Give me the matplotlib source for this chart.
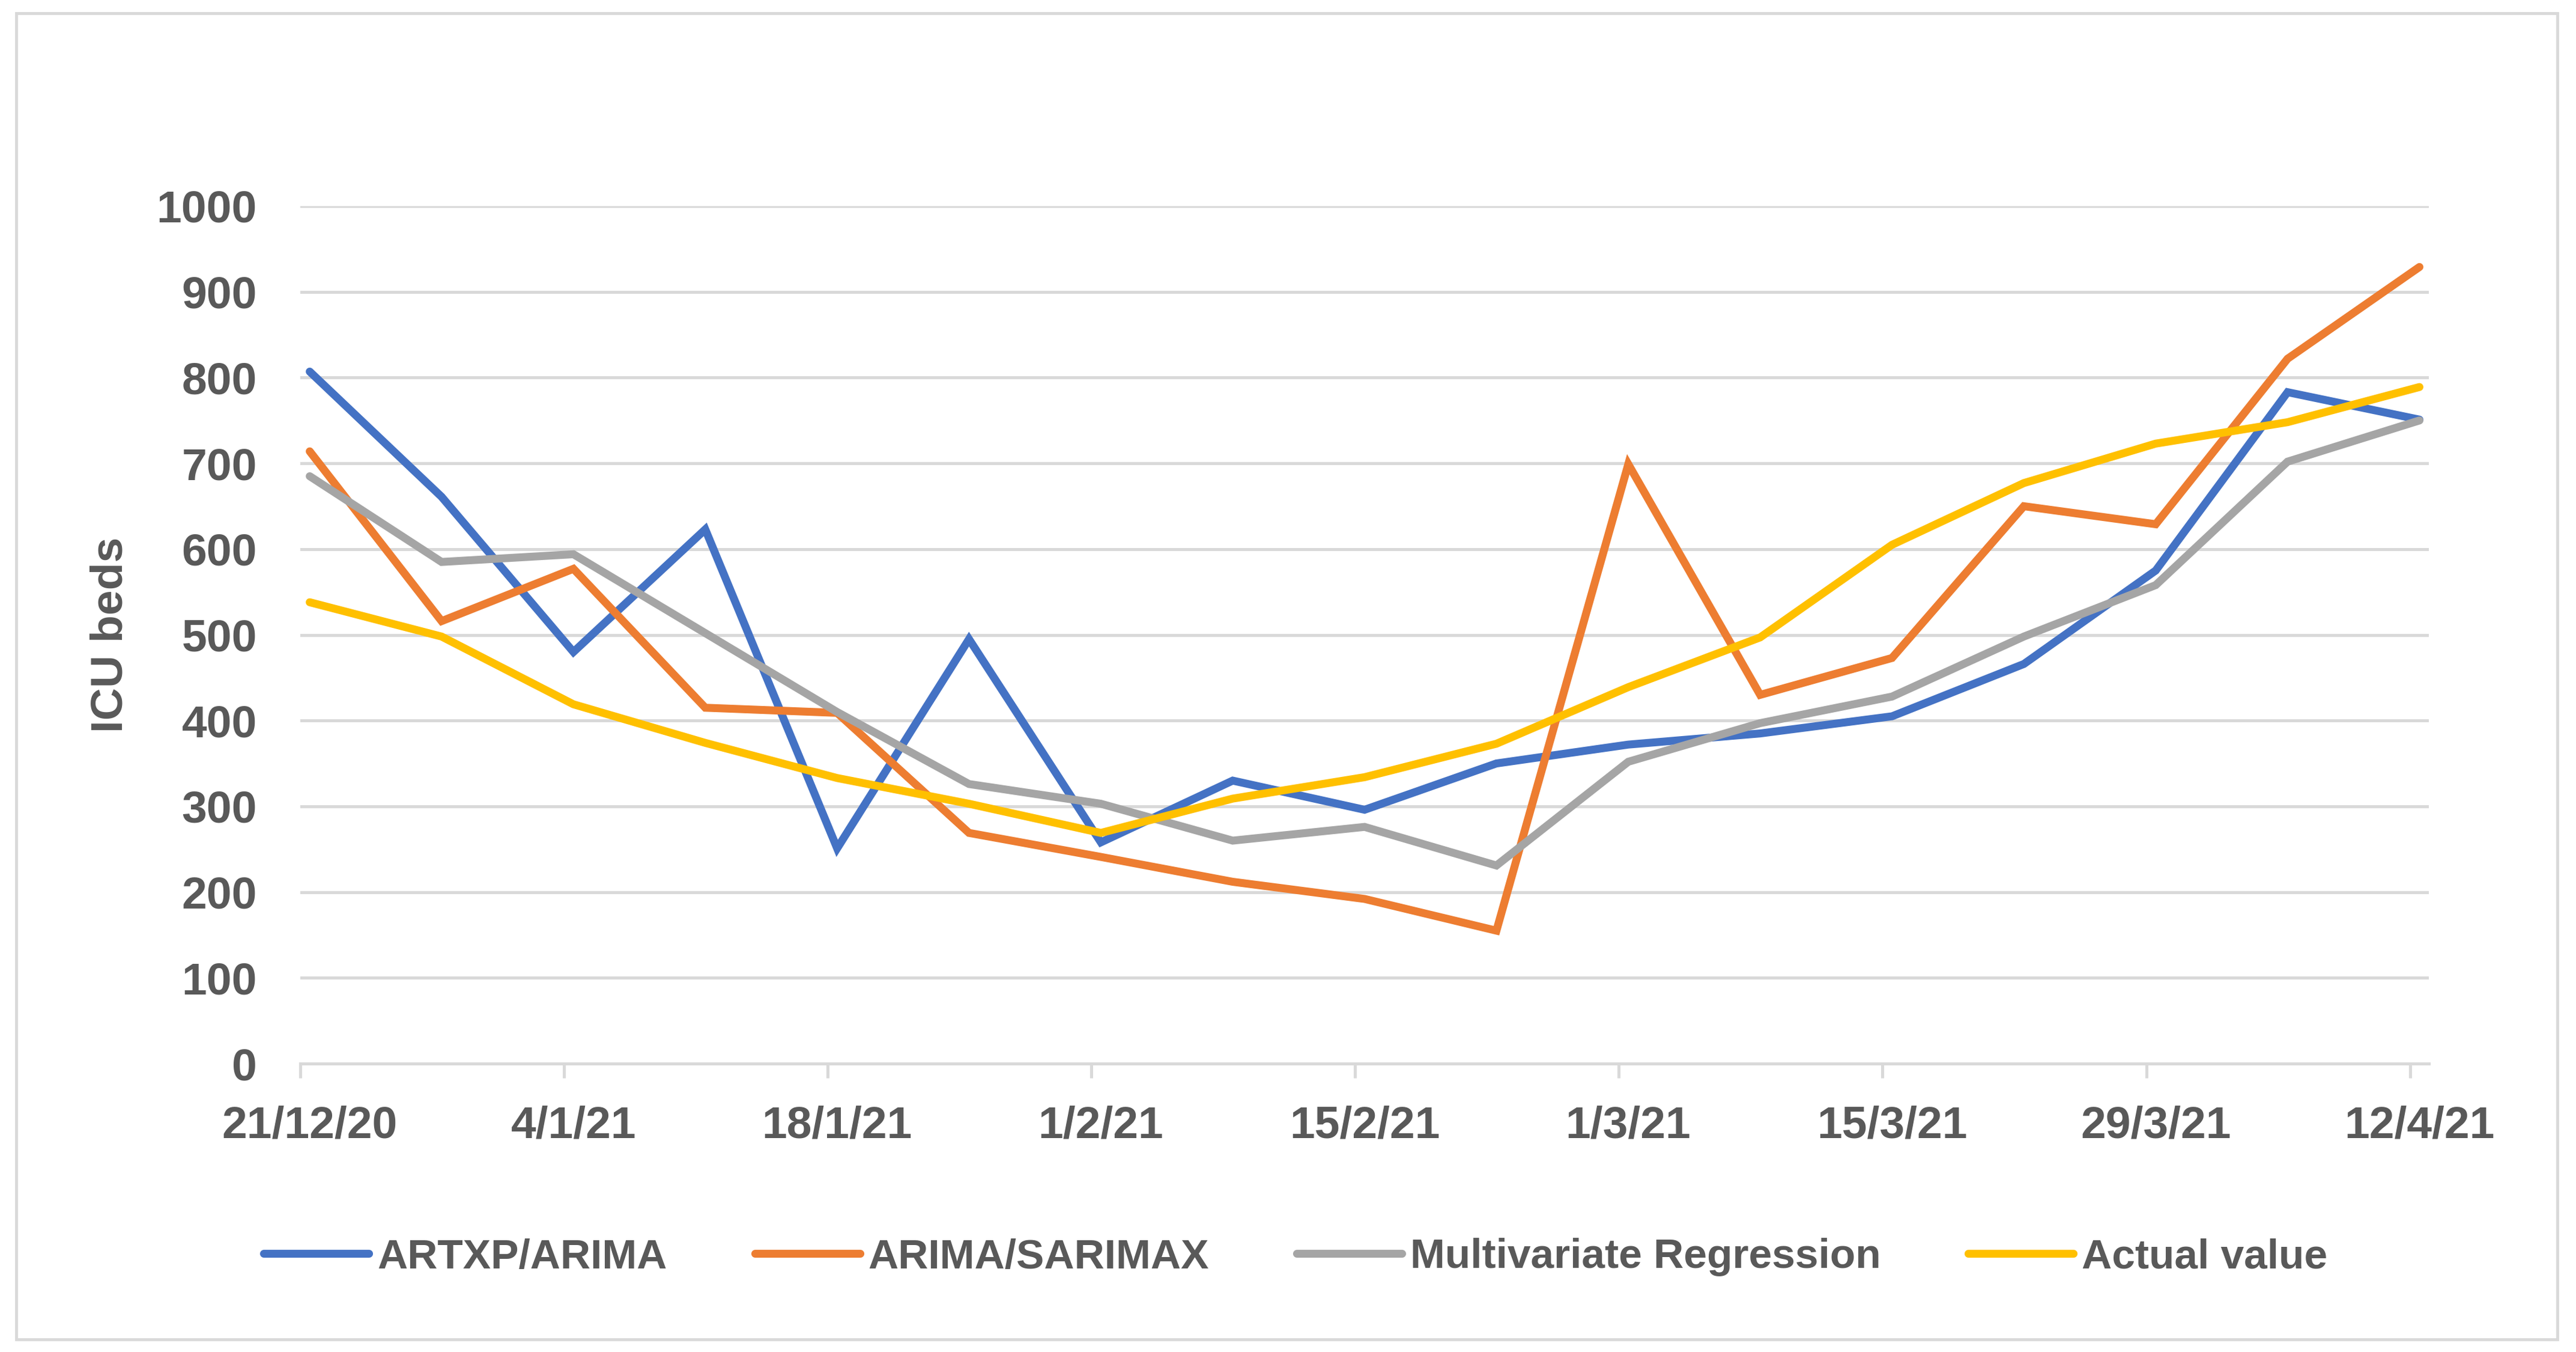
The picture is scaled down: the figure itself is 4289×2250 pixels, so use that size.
import matplotlib
matplotlib.use("Agg")
import matplotlib.pyplot as plt
import matplotlib.dates as mdates
import pandas as pd
from matplotlib.lines import Line2D
from matplotlib.patches import Rectangle

# weekly values, 21/12/20 .. 12/4/21
WEEKS = pd.date_range("2020-12-21", "2021-04-12", freq="7D")
ARTXP_ARIMA = [807, 661, 480, 623, 251, 495, 258, 330, 296, 350, 372, 385, 405, 466, 575, 783, 751]
ARIMA_SARIMAX = [714, 516, 577, 415, 409, 269, 241, 212, 192, 155, 699, 430, 473, 650, 629, 822, 929]
MULTIVARIATE = [685, 585, 594, 502, 410, 326, 303, 260, 276, 231, 352, 397, 428, 498, 558, 702, 750]
ACTUAL = [538, 498, 419, 374, 333, 303, 269, 309, 334, 373, 439, 497, 605, 677, 723, 748, 789]

SERIES = [("ARTXP/ARIMA", ARTXP_ARIMA, "#4472C4"),
          ("ARIMA/SARIMAX", ARIMA_SARIMAX, "#ED7D31"),
          ("Multivariate Regression", MULTIVARIATE, "#A5A5A5"),
          ("Actual value", ACTUAL, "#FFC000")]
Y_TICKS = list(range(0, 1001, 100))

TXT = "#595959"
GRID = "#D9D9D9"
FONT = ["Liberation Sans Narrow", "Liberation Sans", "DejaVu Sans"]
LW = 9.5

plt.rcParams["font.family"] = FONT
plt.rcParams["font.weight"] = "bold"

fig = plt.figure(figsize=(42.89, 22.5), dpi=100)
fig.patch.set_facecolor("white")
fig.patches.append(Rectangle((27 / 4289, 1 - 2229 / 2250), (4258 - 27) / 4289,
                             (2229 - 22) / 2250, transform=fig.transFigure,
                             fill=False, edgecolor=GRID, linewidth=3.5))

ax = fig.add_axes([500 / 4289, 1 - 1770 / 2250, 3544 / 4289, 1427 / 2250])
x = mdates.date2num(WEEKS)
for name, vals, col in SERIES:
    ax.plot(x, vals, color=col, lw=LW, label=name, solid_joinstyle="miter",
            solid_capstyle="round", clip_on=False)

ax.set_xlim(x[0] - 0.5, x[-1] + 0.5)
ax.set_ylim(0, 1000)
ax.set_yticks(Y_TICKS)
ax.set_yticklabels([str(v) for v in Y_TICKS])
ax.grid(axis="y", color=GRID, lw=3.6)
ax.set_axisbelow(True)

# tick marks on day boundaries, labels centred under the data points
ax.set_xticks(x[::2] - 0.5)
ax.set_xticklabels([])
ax.set_xticks(x[::2], minor=True)
ax.set_xticklabels([f"{d.day}/{d.month}/{d:%y}" for d in WEEKS[::2]], minor=True)
ax.tick_params(axis="x", which="major", length=17, width=3.6, color=GRID, direction="out")
ax.tick_params(axis="x", which="minor", length=0, pad=50, labelsize=54, labelcolor=TXT)
ax.tick_params(axis="y", length=0, pad=52, labelsize=54, labelcolor=TXT)

for s in ("top", "right", "left"):
    ax.spines[s].set_visible(False)
ax.spines["bottom"].set_color(GRID)
ax.spines["bottom"].set_linewidth(3.6)

ax.set_ylabel("ICU beds", fontsize=54, color=TXT, fontweight="bold")
ax.yaxis.set_label_coords(-0.0793, 0.5)

handles = [Line2D([], [], color=c, lw=LW, solid_capstyle="round") for _, _, c in SERIES]
fig.legend(handles, [n for n, _, _ in SERIES], loc="center",
           bbox_to_anchor=(0.503, 0.070), ncol=4, frameon=False, fontsize=50,
           handlelength=2.52, handletextpad=0.2, columnspacing=2.1, labelcolor=TXT)

fig.savefig("out.png", dpi=100, facecolor="white")
